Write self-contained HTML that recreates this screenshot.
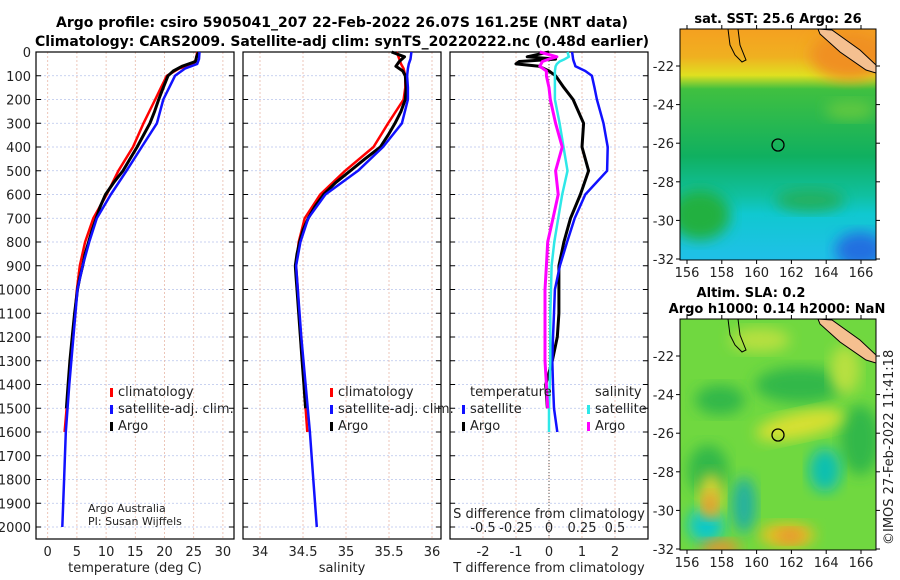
<!DOCTYPE html>
<html><head><meta charset="utf-8"><style>
body{margin:0;background:#fff;}
svg{display:block;font-family:"DejaVu Sans","Liberation Sans",sans-serif;}
.tl{font-size:13px;fill:#222;}
.tt{font-size:14px;font-weight:bold;fill:#000;}
</style></head><body>
<svg id="fig" width="900" height="580" viewBox="0 0 900 580" xmlns="http://www.w3.org/2000/svg">
<defs>
<filter id="bl" x="-20%" y="-20%" width="140%" height="140%"><feGaussianBlur stdDeviation="7"/></filter>
<linearGradient id="sstg" x1="0" y1="0" x2="0" y2="1">
<stop offset="0" stop-color="#f5a020"/><stop offset="0.12" stop-color="#f0b020"/><stop offset="0.2" stop-color="#e0e020"/><stop offset="0.26" stop-color="#40c040"/><stop offset="0.55" stop-color="#10b060"/><stop offset="0.72" stop-color="#10c0a0"/><stop offset="0.8" stop-color="#10c8d0"/><stop offset="1" stop-color="#20c0e8"/>
</linearGradient>
<clipPath id="c1"><rect x="680" y="29" width="196" height="231"/></clipPath>
<clipPath id="c2"><rect x="680" y="319" width="196" height="231"/></clipPath>
</defs>
<text class="tt" x="342" y="27" text-anchor="middle">Argo profile: csiro 5905041_207 22-Feb-2022 26.07S 161.25E (NRT data)</text>
<text class="tt" x="342" y="46" text-anchor="middle">Climatology: CARS2009. Satellite-adj clim: synTS_20220222.nc (0.48d earlier)</text>
<g id="plots"></g>
<g id="maps">
<g clip-path="url(#c1)">
<rect x="680" y="29" width="196" height="231" fill="url(#sstg)"/>
<ellipse cx="700" cy="215" rx="30" ry="25" fill="#20b040" filter="url(#bl)"/>
<ellipse cx="860" cy="250" rx="25" ry="18" fill="#2070e0" filter="url(#bl)"/>
<ellipse cx="810" cy="200" rx="35" ry="12" fill="#20b060" filter="url(#bl)"/>
<ellipse cx="850" cy="55" rx="40" ry="25" fill="#f09020" filter="url(#bl)"/>
<ellipse cx="850" cy="110" rx="25" ry="10" fill="#60c840" filter="url(#bl)"/>
<path d="M818 29 L832 30 L860 50 L876 65 L876 73 L866 70 L840 52 L820 34 Z" fill="#f5c090" stroke="#000" stroke-width="1"/>
<path d="M728 29 L730 45 L735 55 L742 62 L746 60 L740 45 L738 29" fill="none" stroke="#000"/>
<circle cx="778" cy="145" r="6" fill="none" stroke="#000" stroke-width="1.3"/>
</g>
<rect x="680" y="29" width="196" height="231" fill="none" stroke="#000"/>
<g clip-path="url(#c2)">
<rect x="680" y="319" width="196" height="231" fill="#70d840"/>
<ellipse cx="720" cy="400" rx="25" ry="15" fill="#30b848" filter="url(#bl)"/>
<ellipse cx="800" cy="385" rx="45" ry="18" fill="#30b848" filter="url(#bl)"/>
<ellipse cx="860" cy="440" rx="20" ry="35" fill="#30b848" filter="url(#bl)"/>
<ellipse cx="800" cy="425" rx="45" ry="13" fill="#d8e030" filter="url(#bl)" transform="rotate(-12 800 425)"/>
<ellipse cx="760" cy="340" rx="30" ry="12" fill="#b8e040" filter="url(#bl)"/>
<ellipse cx="845" cy="370" rx="15" ry="25" fill="#b8e040" filter="url(#bl)"/>
<ellipse cx="825" cy="470" rx="16" ry="22" fill="#10c0b0" filter="url(#bl)"/>
<ellipse cx="744" cy="505" rx="12" ry="28" fill="#20b0a0" filter="url(#bl)"/>
<ellipse cx="706" cy="525" rx="18" ry="18" fill="#10c8c8" filter="url(#bl)"/>
<ellipse cx="708" cy="470" rx="20" ry="25" fill="#30b848" filter="url(#bl)"/>
<ellipse cx="711" cy="495" rx="12" ry="22" fill="#d8d030" filter="url(#bl)"/>
<ellipse cx="710" cy="505" rx="7" ry="12" fill="#e89030" filter="url(#bl)"/>
<ellipse cx="787" cy="535" rx="28" ry="12" fill="#e8c020" filter="url(#bl)"/>
<ellipse cx="790" cy="536" rx="14" ry="7" fill="#e89030" filter="url(#bl)"/>
<ellipse cx="720" cy="548" rx="20" ry="8" fill="#e89030" filter="url(#bl)"/>
<path d="M818 319 L832 320 L860 340 L876 355 L876 363 L866 360 L840 342 L820 324 Z" fill="#f5c090" stroke="#000" stroke-width="1"/>
<path d="M728 319 L730 335 L735 345 L742 352 L746 350 L740 335 L738 319" fill="none" stroke="#000"/>
<circle cx="778" cy="435" r="6" fill="none" stroke="#000" stroke-width="1.3"/>
</g>
<rect x="680" y="319" width="196" height="231" fill="none" stroke="#000"/>
<text class="tt" x="778" y="23" text-anchor="middle" style="font-size:13px">sat. SST: 25.6 Argo: 26</text>
<text class="tt" x="751" y="297" text-anchor="middle" style="font-size:13px">Altim. SLA: 0.2</text>
<text class="tt" x="777" y="313" text-anchor="middle" style="font-size:13px">Argo h1000: 0.14 h2000: NaN</text>
<text x="893" y="545" transform="rotate(-90 893 545)" style="font-size:13px" fill="#222">©IMOS 27-Feb-2022 11:41:18</text>
</g>
</svg>
<script>
// ---- data (depth in m) ----
const depthT = [0,30,50,70,100,150,200,300,400,500,600,700,800,900,1000,1200,1400,1600,1800,2000];
const tempClim = [25.6,25.4,25.0,22.5,20.4,19.4,18.4,16.4,14.6,12.1,10.1,7.8,6.4,5.5,5.0,4.3,3.6,2.9];
const tempSat  = [26.0,25.9,25.6,23.5,21.8,20.8,19.8,18.7,16.1,13.5,10.8,8.4,7.1,6.0,5.1,4.4,3.7,3.1,2.8,2.5];
const depthArgo = [0,20,40,60,80,100,150,200,250,300,350,400,450,500,550,600,650,700,750,800,850,900,950,1000,1100,1200,1300,1400,1500];
const tempArgo = [25.8,25.5,25.3,23.0,21.5,20.6,19.8,19.0,18.3,17.5,16.4,15.3,14.1,12.9,11.3,9.9,9.0,8.3,7.6,7.0,6.4,6.0,5.5,5.1,4.6,4.2,3.8,3.5,3.2];
const salClim = [35.59,35.62,35.64,35.67,35.69,35.69,35.67,35.49,35.32,34.99,34.70,34.52,34.45,34.42,34.44,34.47,34.51,34.55];
const salSat  = [35.76,35.75,35.73,35.72,35.71,35.72,35.72,35.65,35.43,35.14,34.76,34.56,34.47,34.42,34.44,34.48,34.53,34.58,34.62,34.66];
const salArgo = [35.53,35.68,35.62,35.58,35.66,35.69,35.70,35.69,35.64,35.57,35.49,35.40,35.22,35.05,34.88,34.74,34.64,34.56,34.50,34.46,34.43,34.41,34.42,34.43,34.45,34.47,34.49,34.51,34.53];
const depthD = [0,20,30,40,50,60,80,100,150,200,300,400,500,600,700,800,900,1000,1100,1200,1300,1400,1500,1600];
const tDiffSat  = [0.7,0.72,0.73,0.75,0.78,0.8,1.1,1.3,1.38,1.45,1.65,1.78,1.76,1.1,0.78,0.55,0.33,0.18,0.15,0.12,0.1,0.12,0.15,0.25];
const tDiffArgo = [0,-0.66,0.2,-0.9,-1.0,-0.3,0.0,0.2,0.45,0.73,1.05,1.0,1.2,0.95,0.65,0.45,0.3,0.3,0.3,0.25,0.1,-0.1,-0.05];
const sDiffSat  = [0.14,0.15,0.12,0.08,0.06,0.05,0.045,0.045,0.045,0.045,0.08,0.11,0.14,0.1,0.07,0.04,0.02,0.015,0.01,0.01,0.01,0.005,0.0,0.0];
const sDiffArgo = [-0.07,0.06,0.0,-0.05,-0.06,-0.07,-0.02,-0.02,0.0,0.01,0.05,0.1,0.05,0.07,0.03,-0.01,-0.02,-0.03,-0.03,-0.03,-0.03,-0.02,-0.01];
const depthTicks = [0,100,200,300,400,500,600,700,800,900,1000,1100,1200,1300,1400,1500,1600,1700,1800,1900,2000];
const tTicks = [0,5,10,15,20,25,30];
const sTicks = [34,34.5,35,35.5,36];
const dTTicks = [-2,-1,0,1,2];
const dSTicks = [-0.5,-0.25,0,0.25,0.5];
const latTicks = [-22,-24,-26,-28,-30,-32];
const lonTicks = [156,158,160,162,164,166];

const NS='http://www.w3.org/2000/svg';
const g=document.getElementById('plots');
const mg=document.getElementById('maps');
function el(t,a,p){const e=document.createElementNS(NS,t);for(const k in a)e.setAttribute(k,a[k]);(p||g).appendChild(e);return e;}
const TOP=52,BOT=539;
const yD=d=>TOP+d*0.2375;
const panels=[
 {x0:36,x1:234,sx:v=>47.7+v*5.84,name:'temperature'},
 {x0:243,x1:441,sx:v=>260+(v-34)*86,name:'salinity'},
 {x0:450,x1:648,sx:v=>549+v*33,name:'difference'}
];
const sxS=v=>549+v*132;
panels.forEach((p,i)=>{
 const ticks=i==0?tTicks:i==1?sTicks:dTTicks;
 depthTicks.forEach(d=>{
  const l=el('line',{x1:p.x0,x2:p.x1,y1:yD(d),y2:yD(d),stroke:'#b8c4ec','stroke-dasharray':'2,2','stroke-width':0.8});
  
  
  el('line',{x1:p.x0,x2:p.x0+5,y1:yD(d),y2:yD(d),stroke:'#000'});
  el('line',{x1:p.x1-5,x2:p.x1,y1:yD(d),y2:yD(d),stroke:'#000'});
  if(i==0){const t=el('text',{x:31,y:yD(d)+5,'text-anchor':'end',class:'tl'});t.textContent=d;
   
   }
 });
 ticks.forEach(v=>{
  const x=p.sx(v);
  const l=el('line',{x1:x,x2:x,y1:TOP,y2:BOT,stroke:'#e8b8a8','stroke-dasharray':'2,2','stroke-width':0.8});
  
  
  const t=el('text',{x:x,y:556,'text-anchor':'middle',class:'tl'});t.textContent=v;
  
  
 });
 const f=el('rect',{x:p.x0,y:TOP,width:p.x1-p.x0,height:BOT-TOP,fill:'none',stroke:'#000','stroke-width':1.2});
 
 
});
dSTicks.forEach(v=>{const t=el('text',{x:sxS(v),y:532,'text-anchor':'middle',class:'tl'});t.textContent=v;
 
 });
el('line',{x1:549,x2:549,y1:TOP,y2:BOT,stroke:'#555','stroke-dasharray':'1,2'});
function line(ds,vs,sx,col,w,name){
 const n=Math.min(ds.length,vs.length);let d='';
 for(let i=0;i<n;i++)d+=(i?'L':'M')+sx(vs[i]).toFixed(1)+' '+yD(ds[i]).toFixed(1);
 const e=el('path',{d:d,fill:'none',stroke:col,'stroke-width':w,'stroke-linejoin':'round'});
 
 
}
const P=panels;
line(depthT,tempClim,P[0].sx,'#f00',2.5,'temp-climatology-line');
line(depthArgo,tempArgo,P[0].sx,'#000',3,'temp-argo-line');
line(depthT,tempSat,P[0].sx,'#11f',2.5,'temp-satellite-line');
line(depthT,salClim,P[1].sx,'#f00',2.5,'sal-climatology-line');
line(depthArgo,salArgo,P[1].sx,'#000',3,'sal-argo-line');
line(depthT,salSat,P[1].sx,'#11f',2.5,'sal-satellite-line');
line(depthD,tDiffArgo,P[2].sx,'#000',3,'tdiff-argo-line');
line(depthD,tDiffSat,P[2].sx,'#11f',2.5,'tdiff-satellite-line');
line(depthD,sDiffSat,sxS,'#2ee8e8',2.5,'sdiff-satellite-line');
line(depthD,sDiffArgo,sxS,'#f0f',3,'sdiff-argo-line');
function txt(x,y,s,name,extra){const t=el('text',Object.assign({x:x,y:y,class:'tl'},extra||{}));t.textContent=s;
 
 return t;}
function mark(x,y,c){el('rect',{x:x,y:y-10,width:3,height:9,fill:c});}
[[108,'#f00','climatology'],[108,'#11f','satellite-adj. clim.'],[108,'#000','Argo']].forEach((r,i)=>{
 mark(r[0]+2,398+i*17,r[1]);txt(r[0]+10,396+i*17,r[2],'temp-legend-entry');
 mark(r[0]+222,398+i*17,r[1]);txt(r[0]+230,396+i*17,r[2],'sal-legend-entry');
});
txt(470,396,'temperature','diff-legend-temp-header');
txt(595,396,'salinity','diff-legend-sal-header');
mark(462,415,'#11f');txt(470,413,'satellite','diff-legend-temp-sat');
mark(462,432,'#000');txt(470,430,'Argo','diff-legend-temp-argo');
mark(587,415,'#2ee8e8');txt(595,413,'satellite','diff-legend-sal-sat');
mark(587,432,'#f0f');txt(595,430,'Argo','diff-legend-sal-argo');
txt(88,512,'Argo Australia','credit-line-1',{style:'font-size:11px'});
txt(88,525,'PI: Susan Wijffels','credit-line-2',{style:'font-size:11px'});
txt(549,518,'S difference from climatology','s-diff-axis-title',{'text-anchor':'middle'});
txt(135,572,'temperature (deg C)','temp-axis-title',{'text-anchor':'middle'});
txt(342,572,'salinity','sal-axis-title',{'text-anchor':'middle'});
txt(549,572,'T difference from climatology','t-diff-axis-title',{'text-anchor':'middle'});
const lonX=v=>687+(v-156)*17.4;
[[29,260,66],[319,550,356]].forEach((m,k)=>{
 latTicks.forEach((v,i)=>{const y=m[2]+i*38.6;
  txt(674,y+5,v,'lat-tick-label',{'text-anchor':'end'});
  el('line',{x1:676,x2:680,y1:y,y2:y,stroke:'#000'},mg);el('line',{x1:876,x2:880,y1:y,y2:y,stroke:'#000'},mg);});
 lonTicks.forEach(v=>{const x=lonX(v);
  txt(x,m[1]+17,v,'lon-tick-label',{'text-anchor':'middle'});
  el('line',{x1:x,x2:x,y1:m[1],y2:m[1]+4,stroke:'#000'},mg);el('line',{x1:x,x2:x,y1:m[0]-4,y2:m[0],stroke:'#000'},mg);});
});
</script>
</body></html>
